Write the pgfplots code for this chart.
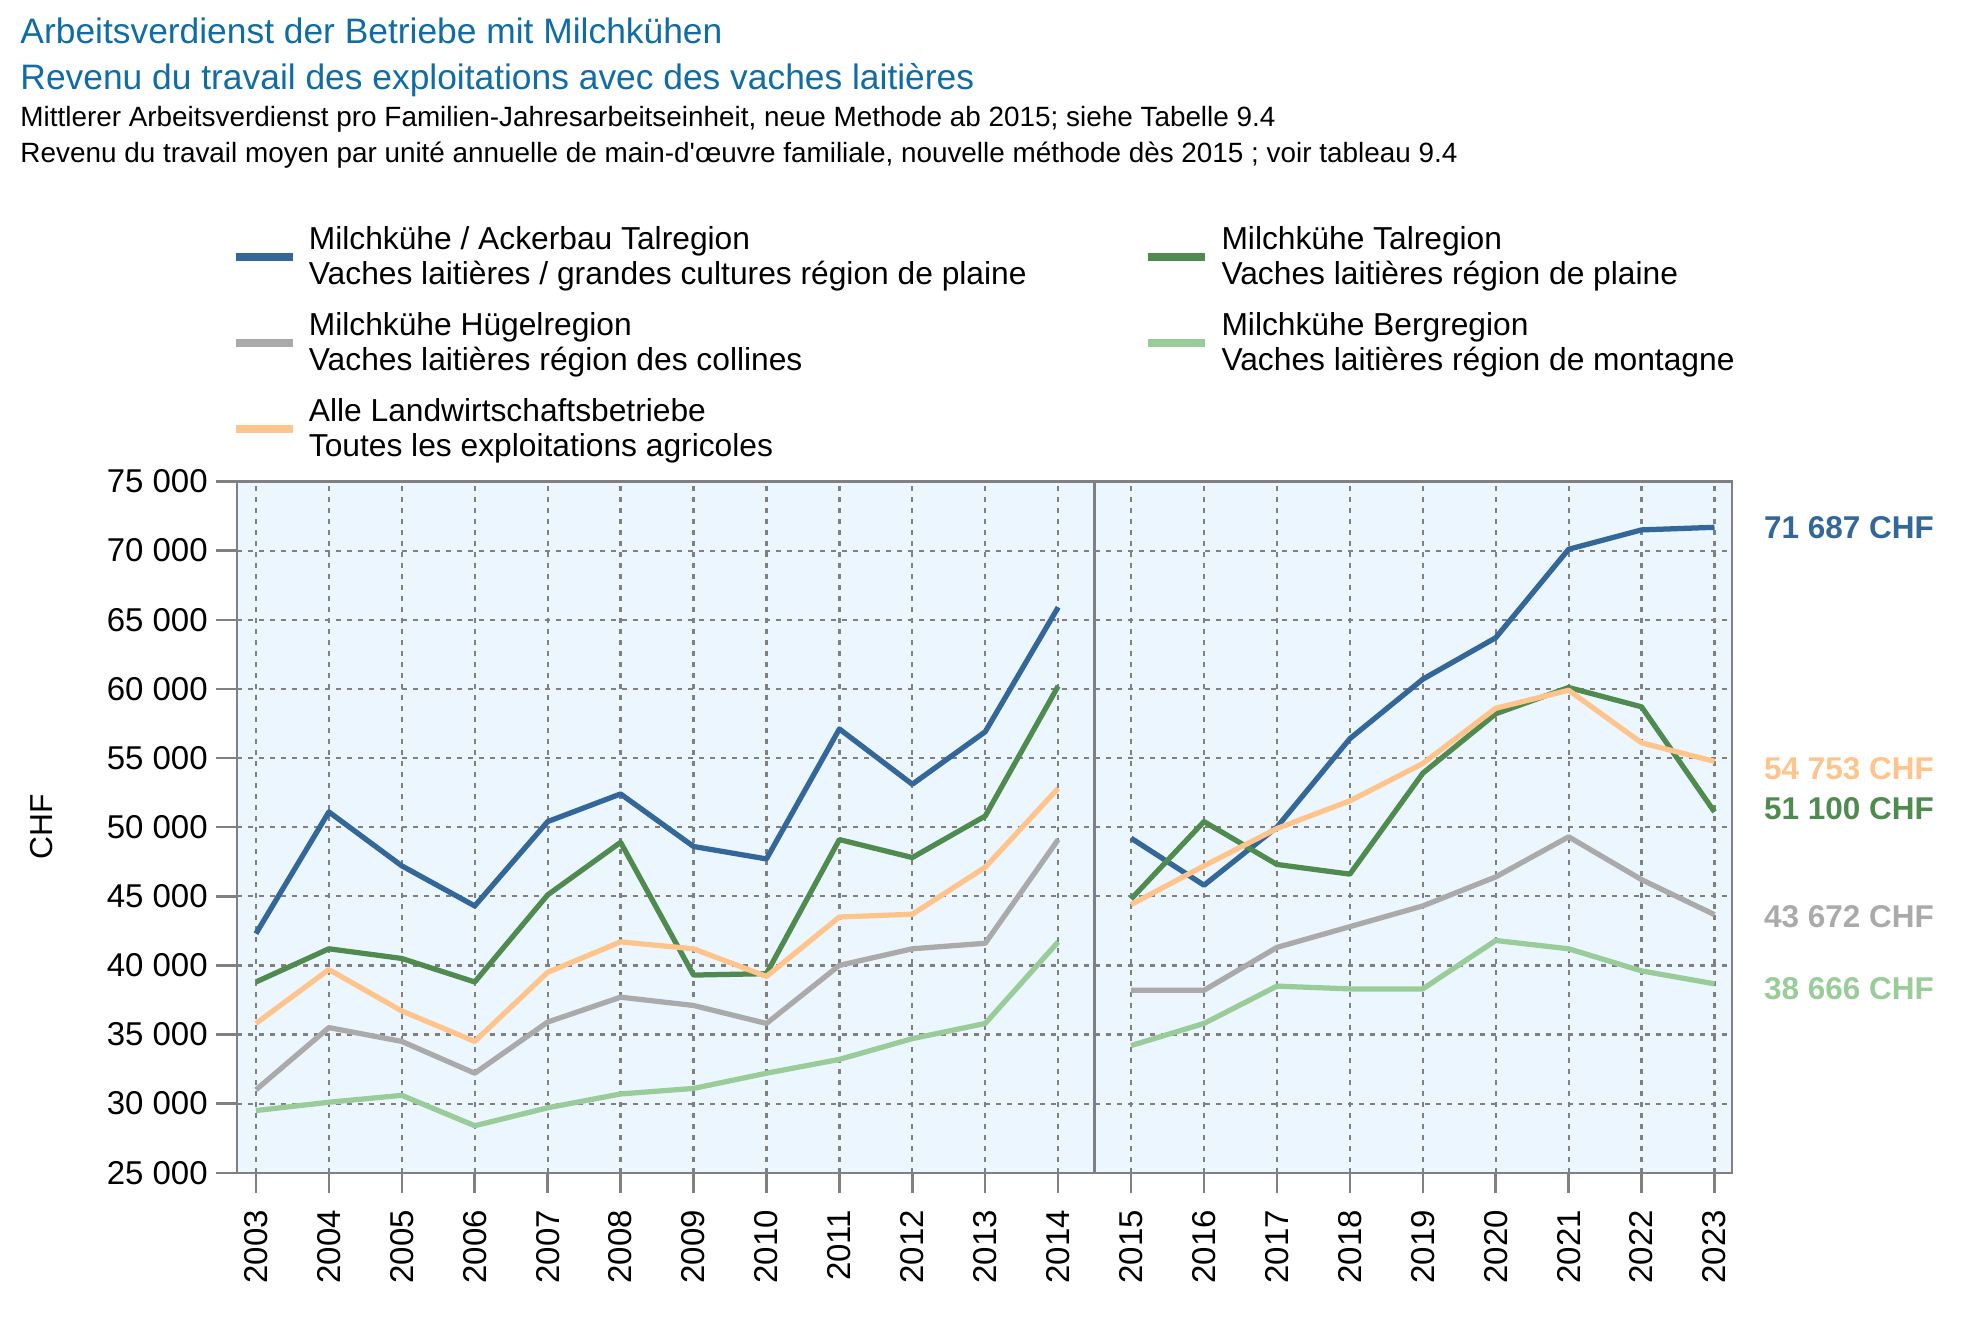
\documentclass[border=0pt]{standalone}
\usepackage{fontspec}
\setmainfont{Liberation Sans}
\newfontfamily\nomap{Liberation Sans}
\usepackage{pgfplots}
\usepackage{pgfplotstable}
\pgfplotsset{compat=1.18}

\definecolor{cblue}{RGB}{51,102,153}
\definecolor{cgreen}{RGB}{79,139,79}
\definecolor{cgray}{RGB}{170,170,170}
\definecolor{cberg}{RGB}{153,204,153}
\definecolor{calle}{RGB}{255,196,140}
\definecolor{ctitle}{RGB}{16,108,165}
\definecolor{cbg}{RGB}{236,246,254}
\definecolor{caxis}{RGB}{128,128,128}

% x: 0 = 2003 ... 20 = 2023, nan row breaks the line between 2014 and 2015
\pgfplotstableread{
x     blue  green gray  berg  alle
0     42300 38800 31000 29500 35800
1     51100 41200 35500 30100 39700
2     47200 40500 34500 30600 36700
3     44300 38800 32200 28400 34500
4     50400 45100 35900 29700 39500
5     52400 48900 37700 30700 41700
6     48600 39300 37100 31100 41200
7     47700 39400 35800 32200 39200
8     57100 49100 40000 33200 43500
9     53100 47800 41200 34700 43700
10    56900 50800 41600 35800 47100
11    65900 60200 49100 41700 52800
11.5  nan   nan   nan   nan   nan
12    49200 44800 38200 34200 44400
13    45800 50400 38200 35800 47200
14    50000 47300 41300 38500 49900
15    56400 46600 42800 38300 51900
16    60700 53900 44300 38300 54600
17    63700 58200 46400 41800 58600
18    70100 60100 49300 41200 59900
19    71500 58700 46200 39600 56100
20    71687 51100 43672 38666 54753
}\datatable

\begin{document}
\begin{tikzpicture}
\path[use as bounding box] (-94.8pt,-60.4pt) rectangle (697.2pt,467.6pt);

\node[anchor=base west, text=ctitle, font=\fontsize{14.15}{16}\selectfont, inner sep=0pt]
  at (-86.8pt,450pt) {Arbeitsverdienst der Betriebe mit Milchkühen};
\node[anchor=base west, text=ctitle, font=\fontsize{14.15}{16}\selectfont, inner sep=0pt]
  at (-86.8pt,431.7pt) {Revenu du travail des exploitations avec des vaches laitières};
\node[anchor=base west, font=\fontsize{11.15}{13}\selectfont, inner sep=0pt]
  at (-86.8pt,417pt) {Mittlerer Arbeitsverdienst pro Familien-Jahresarbeitseinheit, neue Methode ab 2015; siehe Tabelle 9.4};
\node[anchor=base west, font=\fontsize{11.15}{13}\selectfont, inner sep=0pt]
  at (-86.8pt,402.5pt) {Revenu du travail moyen par unité annuelle de main-d{\nomap'}œuvre familiale, nouvelle méthode dès 2015 ; voir tableau 9.4};

\begin{axis}[
  at={(0pt,-1.5pt)}, anchor=south west,
  scale only axis, width=598pt, height=276.5pt,
  xmin=-0.26, xmax=20.24,
  ymin=25000, ymax=75000,
  xtick={0,...,20},
  xticklabels={2003,2004,2005,2006,2007,2008,2009,2010,2011,2012,2013,2014,2015,2016,2017,2018,2019,2020,2021,2022,2023},
  ytick={25000,30000,...,75000},
  scaled y ticks=false,
  /pgf/number format/assume math mode=true,
  /pgf/number format/1000 sep={\ },
  tick label style={font=\fontsize{13.2}{15}\selectfont},
  x tick label style={rotate=90, anchor=east, inner xsep=6.5pt, inner ysep=0pt},
  y tick label style={inner xsep=3.3pt},
  tick pos=left, tick align=outside,
  major tick length=8.2pt,
  tick style={draw=caxis, line width=1pt},
  axis line style={draw=caxis, line width=1pt},
  axis background/.style={fill=cbg},
  grid=major,
  major grid style={draw=caxis, line width=0.9pt, dash pattern=on 2pt off 2.4pt},
  extra x ticks={11.5},
  extra x tick labels={},
  extra x tick style={grid=major, major grid style={draw=caxis, line width=1pt, solid}, major tick length=0pt},
  ylabel={CHF},
  ylabel style={at={(axis description cs:-0.1308,0.5)}, anchor=center, font=\fontsize{12.7}{14}\selectfont},
  unbounded coords=jump,
  clip=false,
  every axis plot/.append style={line width=2.1pt, line join=round, no markers},
  legend columns=2,
  legend image code/.code={\draw[#1, line width=3.3pt] (0pt,0pt) -- (22.8pt,0pt); \path[draw=none] (0pt,0pt) -- (27.3pt,0pt);},
  legend style={
    at={(-0.004,1.3772)}, anchor=north west,
    draw=none, fill=none, inner sep=0pt,
    font=\fontsize{12.7}{14}\selectfont,
    cells={anchor=west, align=left, inner sep=3pt},
    row sep=5.7pt,
    /tikz/every even column/.append style={column sep=45pt},
  },
]
\addplot[cblue]  table[x=x, y=blue]  {\datatable};
\addlegendentry{Milchkühe / Ackerbau Talregion\\Vaches laitières / grandes cultures région de plaine}
\addplot[cgreen] table[x=x, y=green] {\datatable};
\addlegendentry{Milchkühe Talregion\\Vaches laitières région de plaine}
\addplot[cgray]  table[x=x, y=gray]  {\datatable};
\addlegendentry{Milchkühe Hügelregion\\Vaches laitières région des collines}
\addplot[cberg]  table[x=x, y=berg]  {\datatable};
\addlegendentry{Milchkühe Bergregion\\Vaches laitières région de montagne}
\addplot[calle]  table[x=x, y=alle]  {\datatable};
\addlegendentry{Alle Landwirtschaftsbetriebe\\Toutes les exploitations agricoles}

\begin{scope}[every node/.style={anchor=west, inner sep=0pt, font=\bfseries\fontsize{12.6}{14}\selectfont}]
\node[text=cblue,  xshift=19.6pt]               at (axis cs:20,71687) {71 687 CHF};
\node[text=calle,  xshift=19.6pt, yshift=-3pt]  at (axis cs:20,54753) {54 753 CHF};
\node[text=cgreen, xshift=19.6pt, yshift=1.5pt] at (axis cs:20,51100) {51 100 CHF};
\node[text=cgray,  xshift=19.6pt, yshift=-1pt]  at (axis cs:20,43672) {43 672 CHF};
\node[text=cberg,  xshift=19.6pt, yshift=-2pt]  at (axis cs:20,38666) {38 666 CHF};
\end{scope}
\end{axis}
\end{tikzpicture}
\end{document}
